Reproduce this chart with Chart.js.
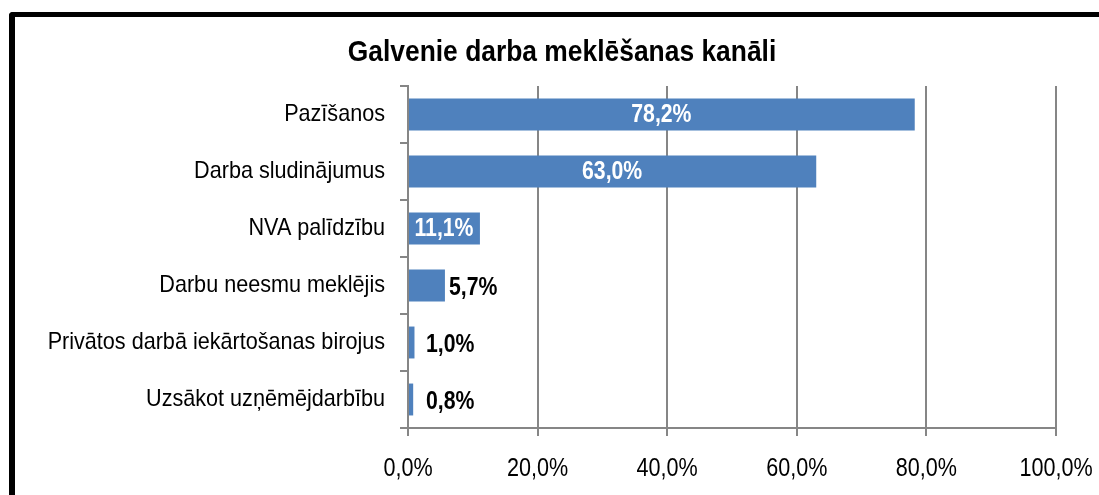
<!DOCTYPE html>
<html>
<head>
<meta charset="utf-8">
<script src="https://cdn.jsdelivr.net/npm/chart.js@4/dist/chart.umd.min.js"></script>
<style>
  html, body { margin: 0; padding: 0; background: #fff; overflow: hidden; }
  #wrap { position: relative; width: 1099px; height: 495px; }
  #c { position: absolute; left: 0; top: 0; }
  #frame { position: absolute; left: 9px; top: 12px; width: 1200px; height: 600px;
           border-left: 6px solid #000; border-top: 5px solid #000; border-top-left-radius: 4px;
           pointer-events: none; }
</style>
</head>
<body>
<div id="wrap">
  <canvas id="c" width="1099" height="495"></canvas>
  <div id="frame"></div>
</div>
<script>
const title = "Galvenie darba meklēšanas kanāli";
const categories = [
  "Pazīšanos",
  "Darba sludinājumus",
  "NVA palīdzību",
  "Darbu neesmu meklējis",
  "Privātos darbā iekārtošanas birojus",
  "Uzsākot uzņēmējdarbību"
];
const values = [78.2, 63.0, 11.1, 5.7, 1.0, 0.8];
const xTicks = [0, 20, 40, 60, 80, 100];

const FONT = '"Liberation Sans", Arial, sans-serif';
const GRID = '#868686';
const BAR = '#4F81BD';

// Emulate a narrow (condensed) face: squeeze text horizontally.
function sqFor(font) {
  const m = /(\d+(?:\.\d+)?)px/.exec(font);
  const size = m ? parseFloat(m[1]) : 12;
  const bold = /bold|700/.test(font);
  if (bold) return size >= 28 ? 0.88 : 0.85;
  return size <= 24 ? 0.9 : 0.83;
}
const canvas = document.getElementById('c');
const c2d = canvas.getContext('2d');
const origFill = c2d.fillText.bind(c2d);
const origMeasure = c2d.measureText.bind(c2d);
c2d.fillText = function (t, x, y, mw) {
  const sq = sqFor(this.font);
  this.save();
  this.translate(x, y);
  this.scale(sq, 1);
  if (mw !== undefined && mw !== null) origFill(t, 0, 0, mw / sq); else origFill(t, 0, 0);
  this.restore();
};
c2d.measureText = function (t) {
  const sq = sqFor(this.font);
  const m = origMeasure(t);
  return {
    width: m.width * sq,
    actualBoundingBoxAscent: m.actualBoundingBoxAscent,
    actualBoundingBoxDescent: m.actualBoundingBoxDescent,
    actualBoundingBoxLeft: m.actualBoundingBoxLeft * sq,
    actualBoundingBoxRight: m.actualBoundingBoxRight * sq,
    fontBoundingBoxAscent: m.fontBoundingBoxAscent,
    fontBoundingBoxDescent: m.fontBoundingBoxDescent
  };
};

function fmt(v) { return v.toFixed(1).replace('.', ',') + '%'; }

const titlePlugin = {
  id: 'customTitle',
  afterDraw(chart) {
    const ctx = chart.ctx;
    ctx.save();
    ctx.font = 'bold 30px ' + FONT;
    ctx.fillStyle = '#000';
    ctx.textAlign = 'center';
    ctx.textBaseline = 'middle';
    ctx.fillText(title, 562, 53);
    ctx.restore();
  }
};

const labelPlugin = {
  id: 'barLabels',
  afterDatasetsDraw(chart) {
    const ctx = chart.ctx;
    const meta = chart.getDatasetMeta(0);
    const xs = chart.scales.x;
    const base = xs.getPixelForValue(0);
    ctx.save();
    ctx.font = 'bold 25px ' + FONT;
    ctx.textBaseline = 'middle';
    meta.data.forEach((bar, i) => {
      const v = values[i];
      const end = xs.getPixelForValue(v);
      const txt = fmt(v);
      if (v >= 10) {
        ctx.fillStyle = '#ffffff';
        ctx.textAlign = 'center';
        ctx.fillText(txt, (base + end) / 2, bar.y + 1);
      } else {
        ctx.fillStyle = '#000000';
        ctx.textAlign = 'left';
        ctx.fillText(txt, Math.max(end + 4, base + 18), bar.y + 3);
      }
    });
    ctx.restore();
  }
};

new Chart(canvas, {
  type: 'bar',
  data: {
    labels: categories,
    datasets: [{
      data: values,
      backgroundColor: BAR,
      borderWidth: 0,
      barPercentage: 0.56,
      categoryPercentage: 1.0
    }]
  },
  options: {
    indexAxis: 'y',
    responsive: false,
    devicePixelRatio: 1,
    animation: false,
    layout: { padding: { left: 30, right: 43, top: 86, bottom: 0 } },
    plugins: {
      legend: { display: false },
      tooltip: { enabled: false },
      title: { display: false }
    },
    scales: {
      x: {
        type: 'linear',
        min: 0, max: 100,
        afterBuildTicks(scale) { scale.ticks = xTicks.map(v => ({ value: v })); },
        afterFit(scale) { scale.height = 67; scale.paddingRight = 0; scale.paddingLeft = 0; },
        grid: { color: GRID, lineWidth: 2, tickLength: 8, drawOnChartArea: true, drawTicks: true },
        border: { display: true, color: GRID, width: 2 },
        ticks: {
          color: '#000',
          font: { family: FONT, size: 26 },
          padding: 17,
          maxRotation: 0,
          callback: (v) => fmt(v)
        }
      },
      y: {
        type: 'category',
        afterFit(scale) { scale.width = 378; },
        grid: { color: GRID, lineWidth: 2, tickLength: 8, drawOnChartArea: false, drawTicks: true, offset: true },
        border: { display: true, color: GRID, width: 2 },
        ticks: {
          color: '#000',
          font: { family: FONT, size: 24 },
          padding: 15
        }
      }
    }
  },
  plugins: [labelPlugin, titlePlugin]
});
</script>
</body>
</html>
